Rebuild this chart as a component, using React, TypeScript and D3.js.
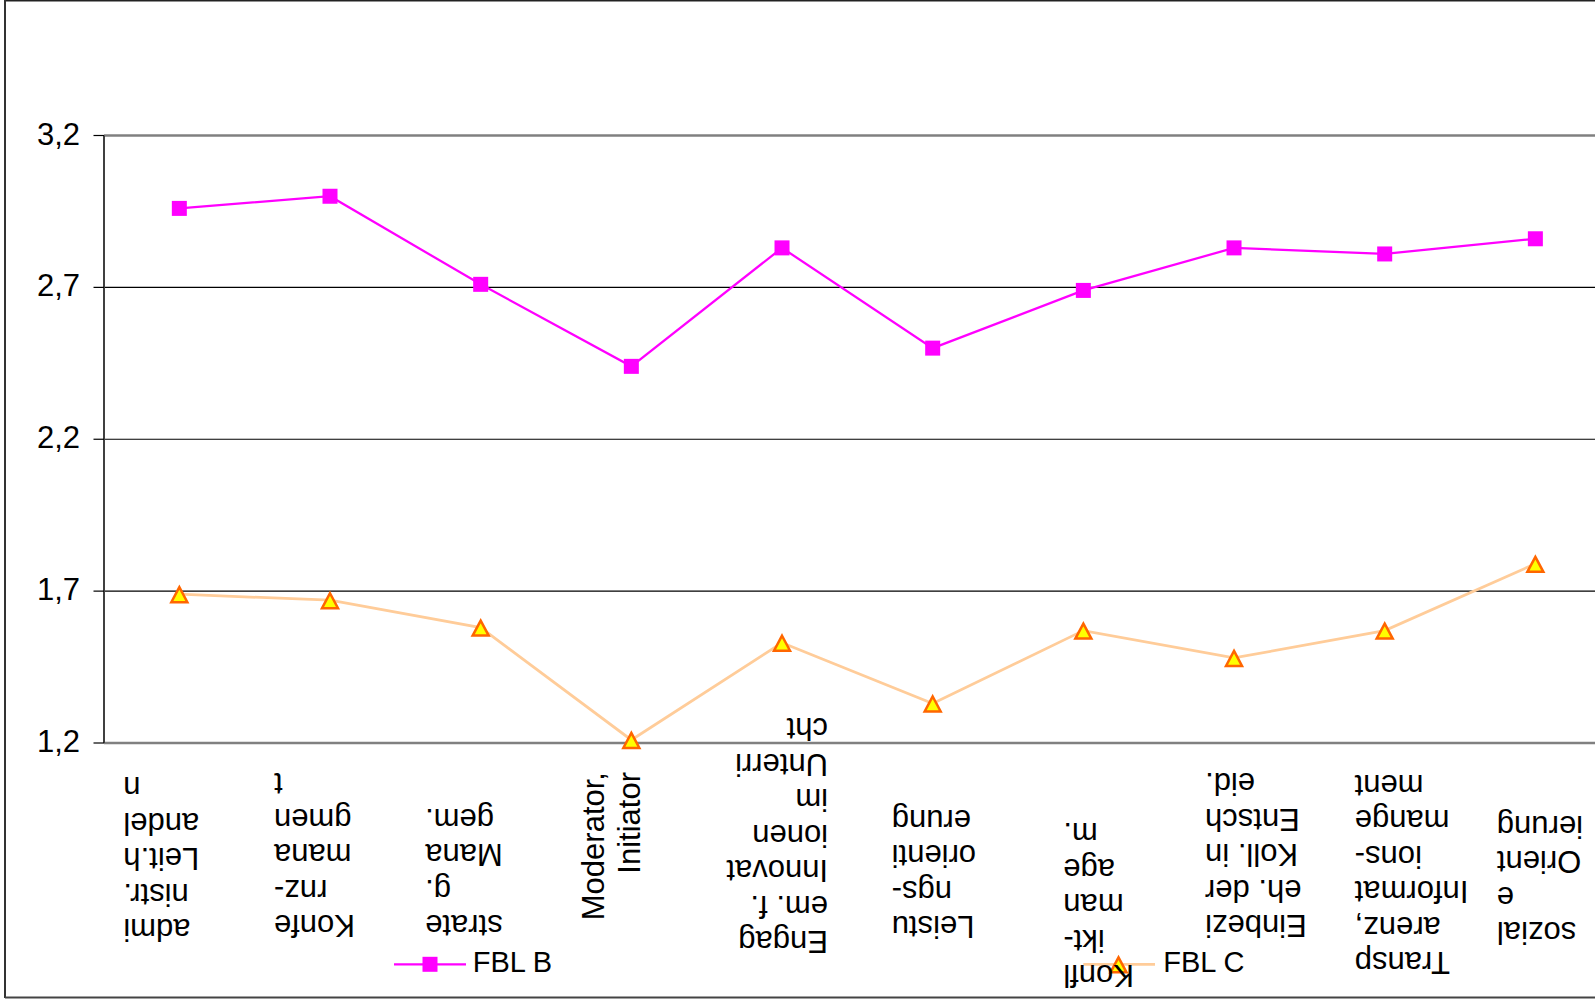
import React from "react";
import * as d3 from "d3";

// Categories (wrapped label lines, as they are set under the axis)
const categories: string[][] = [
  ["admi", "nistr.", "Leit.h", "andel", "n"],
  ["Konfe", "rnz-", "mana", "gmen", "t"],
  ["strate", "g.", "Mana", "gem."],
  ["Moderator,", "Initiator"],
  ["Engag", "em. f.", "Innovat", "ionen", "im", "Unterri", "cht"],
  ["Leistu", "ngs-", "orienti", "erung"],
  ["Konfl", "ikt-", "man", "age", "m."],
  ["Einbezi", "eh. der", "Koll. in", "Entsch", "eid."],
  ["Transp", "arenz,", "Informat", "ions-", "mange", "ment"],
  ["sozial", "e", "Orient", "ierung"],
];

const seriesNames = ["FBL B", "FBL C"];
const fblB = [2.96, 3.0, 2.71, 2.44, 2.83, 2.5, 2.69, 2.83, 2.81, 2.86];
const fblC = [1.69, 1.67, 1.58, 1.21, 1.53, 1.33, 1.57, 1.48, 1.57, 1.79];
const yTicks = [1.2, 1.7, 2.2, 2.7, 3.2];

// Label placement: text block orientation, alignment and offset from the category centre
type LabelLayout = { mode: "flip" | "up"; align: "left" | "right"; dx: number; y: number };
const labelLayout: LabelLayout[] = [
  { mode: "flip", align: "left", dx: -56, y: 942 },
  { mode: "flip", align: "left", dx: -56, y: 938 },
  { mode: "flip", align: "left", dx: -55.5, y: 938 },
  { mode: "up", align: "right", dx: -27, y: 772 },
  { mode: "flip", align: "right", dx: 46, y: 954 },
  { mode: "flip", align: "left", dx: -41, y: 939 },
  { mode: "flip", align: "left", dx: -20, y: 988 },
  { mode: "flip", align: "left", dx: -29, y: 938 },
  { mode: "flip", align: "left", dx: -30, y: 975 },
  { mode: "flip", align: "left", dx: -38.5, y: 945 },
];

const W = 1595;
const H = 999;
const plot = { left: 104, right: 1610.7, top: 135.5, bottom: 743 };
const FONT = "'Liberation Sans', Arial, Helvetica, sans-serif";
const LABEL_SIZE = 31;
const LINE_H = 35.5;

const colB = "#FF00FF";
const colC = "#FFCC99";
const triStroke = "#FF6600";
const triFill = "#FFFF00";

const trianglePath = "M0,-7 L8,8 L-8,8 Z";

export default function App() {
  const x = d3
    .scaleBand<number>()
    .domain(d3.range(categories.length))
    .range([plot.left, plot.right]);
  const cx = (i: number) => (x(i) as number) + x.bandwidth() / 2;
  const y = d3.scaleLinear().domain([1.2, 3.2]).range([plot.bottom, plot.top]);

  const line = d3
    .line<number>()
    .x((_, i) => cx(i))
    .y((d) => y(d));

  const fmt = (v: number) => d3.format(".1f")(v).replace(".", ",");

  return (
    <svg
      width={W}
      height={H}
      style={{ position: "absolute", left: 0, top: 0, display: "block", background: "#fff" }}
      fontFamily={FONT}
    >
      <rect x={0} y={0} width={W} height={H} fill="#fff" />
      <defs>
        <clipPath id="plotClip">
          <rect x={0} y={0} width={W} height={H} />
        </clipPath>
      </defs>

      {/* outer chart frame */}
      <line x1={5} x2={W} y1={0.75} y2={0.75} stroke="#222" strokeWidth={1.5} />
      <line x1={5} x2={5} y1={0} y2={998} stroke="#333" strokeWidth={2} />
      <line x1={5} x2={W} y1={997.5} y2={997.5} stroke="#444" strokeWidth={2} />

      {/* gridlines */}
      {yTicks.map((t) => {
        const edge = t === 1.2 || t === 3.2;
        return (
          <line
            key={"g" + t}
            x1={plot.left}
            x2={W}
            y1={y(t)}
            y2={y(t)}
            stroke={edge ? "#808080" : "#000"}
            strokeWidth={edge ? 2.5 : 1.2}
          />
        );
      })}

      {/* y axis */}
      <line x1={plot.left} x2={plot.left} y1={plot.top} y2={plot.bottom} stroke="#404040" strokeWidth={2} />
      {yTicks.map((t) => (
        <g key={"t" + t}>
          <line x1={93.5} x2={plot.left} y1={y(t)} y2={y(t)} stroke="#000" strokeWidth={1.2} />
          <text x={80} y={y(t) + 9} textAnchor="end" fontSize={LABEL_SIZE} fill="#000">
            {fmt(t)}
          </text>
        </g>
      ))}

      {/* series lines */}
      <path d={line(fblC) || ""} fill="none" stroke={colC} strokeWidth={2.75} />
      <path d={line(fblB) || ""} fill="none" stroke={colB} strokeWidth={2.25} />
      {fblB.map((v, i) => (
        <rect key={"b" + i} x={cx(i) - 7.5} y={y(v) - 7.5} width={15} height={15} fill={colB} />
      ))}
      {fblC.map((v, i) => (
        <path
          key={"c" + i}
          d={trianglePath}
          transform={`translate(${cx(i)},${y(v)})`}
          fill={triFill}
          stroke={triStroke}
          strokeWidth={2.5}
        />
      ))}

      {/* legend */}
      <g>
        <line x1={394} x2={466} y1={964.3} y2={964.3} stroke={colB} strokeWidth={2.25} />
        <rect x={430 - 7.5} y={964.3 - 7.5} width={15} height={15} fill={colB} />
        <text x={472.7} y={972.3} fontSize={29} fill="#000">
          {seriesNames[0]}
        </text>
        <line x1={1083.3} x2={1155} y1={964.3} y2={964.3} stroke={colC} strokeWidth={2.75} />
        <path
          d={trianglePath}
          transform={`translate(1118.5,964.3)`}
          fill={triFill}
          stroke={triStroke}
          strokeWidth={2.5}
        />
        <text x={1163.3} y={972.3} fontSize={29} fill="#000">
          {seriesNames[1]}
        </text>
      </g>

      {/* category labels */}
      {categories.map((lines, i) => {
        const L = labelLayout[i];
        const ax = cx(i) + L.dx;
        if (L.mode === "up") {
          return (
            <g key={"l" + i} transform={`translate(${ax},${L.y}) rotate(-90)`}>
              {lines.map((s, j) => (
                <text key={j} x={0} y={j * LINE_H} textAnchor="end" fontSize={LABEL_SIZE} fill="#000">
                  {s}
                </text>
              ))}
            </g>
          );
        }
        return (
          <g key={"l" + i} transform={`translate(${ax},${L.y}) rotate(180)`}>
            {lines.map((s, j) => (
              <text
                key={j}
                x={0}
                y={23 + j * LINE_H}
                textAnchor={L.align === "left" ? "end" : "start"}
                fontSize={LABEL_SIZE}
                fill="#000"
              >
                {s}
              </text>
            ))}
          </g>
        );
      })}
    </svg>
  );
}
